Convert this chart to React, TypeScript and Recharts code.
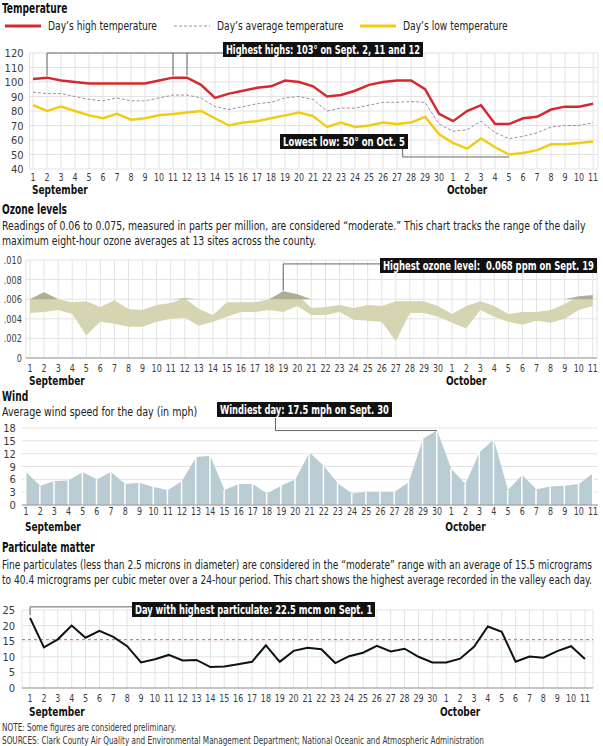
import React, { useLayoutEffect, useRef, useState } from 'react';
import { LineChart, Line, ComposedChart, Area, Bar, XAxis, YAxis, CartesianGrid, ReferenceLine } from 'recharts';

const DAY_LABELS = [
  '1', '2', '3', '4', '5', '6', '7', '8', '9', '10', '11', '12', '13', '14', '15',
  '16', '17', '18', '19', '20', '21', '22', '23', '24', '25', '26', '27', '28', '29', '30',
  '1', '2', '3', '4', '5', '6', '7', '8', '9', '10', '11',
];
const OCT_START = 30;

// temperature, degrees F
const HIGH = [102, 103, 101, 100, 99, 99, 99, 99, 99, 101, 103, 103, 98, 89, 92, 94, 96, 97, 101, 100, 97, 90, 91, 94, 98, 100, 101, 101, 95, 78, 73, 80, 84, 71, 71, 75, 76, 81, 83, 83, 85];
const AVG = [93, 92, 92, 90, 88, 87, 89, 87, 87, 89, 91, 91, 89, 83, 81, 83, 85, 86, 89, 90, 88, 80, 82, 82, 84, 86, 86, 86.5, 86, 71, 66, 67, 73, 65, 61, 62.5, 65, 69, 70, 70, 72];
const LOW = [84, 80, 83, 80, 77, 75, 78, 74, 75, 77, 78, 79, 80, 75, 70, 72, 73, 75, 77, 79, 76.5, 69, 72, 69, 70, 72, 71, 72, 76, 64, 58, 54, 61, 55, 50, 51, 53, 57, 57, 58, 59];
const TEMP_TICKS = [40, 50, 60, 70, 80, 90, 100, 110, 120];

// ozone range (in the axis units)
const OZ_HI = [0.006, 0.0067, 0.006, 0.0057, 0.0058, 0.0052, 0.0059, 0.005, 0.0049, 0.0054, 0.0056, 0.0061, 0.005, 0.0044, 0.0057, 0.0057, 0.0057, 0.006, 0.0068, 0.0065, 0.0051, 0.0052, 0.0054, 0.0051, 0.0054, 0.0053, 0.0058, 0.0058, 0.0058, 0.0053, 0.0045, 0.0053, 0.0058, 0.0053, 0.0045, 0.0047, 0.0047, 0.0049, 0.0055, 0.0063, 0.0064];
const OZ_LO = [0.0046, 0.0047, 0.0049, 0.0045, 0.0023, 0.0037, 0.0035, 0.0032, 0.0032, 0.0037, 0.004, 0.0041, 0.0033, 0.0037, 0.0042, 0.0047, 0.0047, 0.0049, 0.0047, 0.0053, 0.0044, 0.0044, 0.0047, 0.0039, 0.0038, 0.0037, 0.0017, 0.0046, 0.0046, 0.0042, 0.0036, 0.003, 0.0049, 0.0042, 0.0037, 0.0034, 0.0038, 0.0036, 0.004, 0.0049, 0.0053];
const OZ_TICKS = [0, 0.002, 0.004, 0.006, 0.008, 0.01];
const OZ_MODERATE = 0.006;

// wind, mph
const WIND = [7.7, 4.5, 5.6, 5.7, 7.7, 6.0, 7.7, 4.9, 5.2, 4.2, 3.5, 5.6, 11.2, 11.5, 3.5, 4.9, 4.9, 2.7, 4.5, 6.0, 12.3, 9.2, 5.1, 2.7, 3.1, 3.1, 3.1, 5.3, 15.5, 17.5, 8.5, 4.9, 12.4, 15.3, 3.5, 7.0, 3.7, 4.3, 4.5, 4.9, 7.4];
const WIND_TICKS = [0, 3, 6, 9, 12, 15, 18];

// particulate matter, mcm
const PM = [22.5, 13.0, 15.6, 20.0, 16.1, 18.3, 16.4, 13.4, 8.2, 9.2, 10.6, 8.8, 9.0, 6.7, 6.9, 7.6, 8.4, 13.7, 8.4, 11.9, 12.9, 12.4, 8.0, 10.2, 11.3, 13.5, 11.7, 12.6, 10.0, 8.2, 8.2, 9.4, 13.2, 19.7, 18.0, 8.4, 10.1, 9.7, 11.8, 13.4, 9.3];
const PM_TICKS = [0, 5, 10, 15, 20, 25];
const PM_MODERATE = 15.5;

const FONT = '"Liberation Sans Narrow", "DejaVu Sans Condensed", Roboto, sans-serif';
const GRID = '#e3e3e3';
const TICK_TEXT = '#3a3a3a';
const BRACKET = '#666';
const SQUEEZE = 0.8;

const rows = DAY_LABELS.map((day, i) => ({
  i,
  day,
  high: HIGH[i],
  avg: AVG[i],
  low: LOW[i],
  oz: [OZ_LO[i], OZ_HI[i]],
  ozOver: [Math.max(OZ_LO[i], OZ_MODERATE), Math.max(OZ_HI[i], OZ_MODERATE)],
  wind: WIND[i],
  pm: PM[i],
}));
const dayTicks = DAY_LABELS.map((_, i) => i);

// the original uses a condensed face; squeeze ours to the same width
const Fit: React.FC<{ left: number; top: number; width: number; style?: React.CSSProperties; children: React.ReactNode }> = ({ left, top, width, style, children }) => {
  const ref = useRef<HTMLDivElement>(null);
  const [k, setK] = useState(1);
  useLayoutEffect(() => {
    if (ref.current) setK(width / ref.current.offsetWidth);
  }, [width]);
  return (
    <div ref={ref} style={{ position: 'absolute', left, top, whiteSpace: 'pre', transformOrigin: '0 0', transform: `scaleX(${k})`, ...style }}>
      {children}
    </div>
  );
};

const DayTick = (props: any) => {
  const { x, y, payload, labelDy, monthDy } = props;
  const i = payload.value;
  return (
    <g fontFamily={FONT}>
      <text transform={`translate(${x},${y}) scale(${SQUEEZE},1)`} dy={labelDy} textAnchor="middle" fontSize={11} fill={TICK_TEXT}>{DAY_LABELS[i]}</text>
      {i === 0 && (
        <text transform={`translate(${x - 1},${y}) scale(0.8,1)`} dy={monthDy} textAnchor="start" fontSize={12.5} fontWeight="bold" fill="#111">September</text>
      )}
      {i === OCT_START + 1 && (
        <text transform={`translate(${x},${y}) scale(0.8,1)`} dy={monthDy} textAnchor="middle" fontSize={12.5} fontWeight="bold" fill="#111">October</text>
      )}
    </g>
  );
};

const ValueTick = (props: any) => {
  const { x, y, payload, squeeze = 1, format } = props;
  const v = payload.value;
  return (
    <text transform={`translate(${x},${y}) scale(${squeeze},1)`} dy={4} textAnchor="end" fontSize={11} fill={TICK_TEXT} fontFamily={FONT}>
      {format ? format(v) : v}
    </text>
  );
};

const ozLabel = (v: number) => (v === 0 ? '0' : v.toFixed(3).replace(/^0/, ''));

const titleStyle: React.CSSProperties = { fontSize: 14, fontWeight: 'bold', color: '#111', lineHeight: '16px' };
const blurbStyle: React.CSSProperties = { fontSize: 12, color: '#222', lineHeight: '15px' };
const calloutStyle: React.CSSProperties = { background: '#111', color: '#fff', fontSize: 12.5, fontWeight: 'bold', lineHeight: '15px', padding: '0 4px', zIndex: 2 };
const legendStyle: React.CSSProperties = { fontSize: 12.5, color: '#222', lineHeight: '16px' };

const Swatch: React.FC<{ left: number; color: string; width: number; dash?: string }> = ({ left, color, width, dash }) => (
  <svg width={36} height={8} style={{ position: 'absolute', left, top: 22 }}>
    <line x1={0} y1={4} x2={36} y2={4} stroke={color} strokeWidth={width} strokeDasharray={dash} />
  </svg>
);

export default function App() {
  return (
    <div style={{ position: 'absolute', left: 0, top: 0, width: 603, height: 746, background: '#fff', fontFamily: FONT, overflow: 'hidden' }}>
      {/* Temperature */}
      <Fit left={2} top={0} width={65} style={titleStyle}>Temperature</Fit>
      <Swatch left={5} color="#d42a2f" width={3} />
      <Fit left={48} top={18} width={109} style={legendStyle}>Day’s high temperature</Fit>
      <Swatch left={174} color="#a08ca6" width={1} dash="3 2" />
      <Fit left={217} top={18} width={126} style={legendStyle}>Day’s average temperature</Fit>
      <Swatch left={360} color="#f2cc12" width={3} />
      <Fit left={403} top={18} width={105} style={legendStyle}>Day’s low temperature</Fit>
      <div style={{ position: 'absolute', left: 0, top: 0 }}>
        <LineChart width={603} height={199} data={rows} margin={{ top: 53, right: 5, bottom: 0, left: 0 }}>
          <CartesianGrid stroke={GRID} />
          <XAxis type="number" dataKey="i" domain={[-0.25, 40.35]} ticks={dayTicks} interval={0} height={30} tickSize={0} axisLine={false} tick={<DayTick labelDy={10} monthDy={23} />} />
          <YAxis domain={[40, 120]} ticks={TEMP_TICKS} interval={0} width={29.5} tickSize={0} tickLine={false} axisLine={false} tickMargin={6} tick={<ValueTick />} />
          <ReferenceLine segment={[{ x: 1, y: 120 }, { x: 14, y: 120 }]} stroke={BRACKET} />
          <ReferenceLine segment={[{ x: 1, y: 120 }, { x: 1, y: 104.5 }]} stroke={BRACKET} />
          <ReferenceLine segment={[{ x: 10, y: 120 }, { x: 10, y: 104.5 }]} stroke={BRACKET} />
          <ReferenceLine segment={[{ x: 11, y: 120 }, { x: 11, y: 104.5 }]} stroke={BRACKET} />
          <ReferenceLine segment={[{ x: 26.4, y: 54 }, { x: 26.4, y: 48.3 }]} stroke={BRACKET} />
          <ReferenceLine segment={[{ x: 26.4, y: 48.3 }, { x: 34, y: 48.3 }]} stroke={BRACKET} />
          <Line dataKey="avg" stroke="#a08ca6" strokeWidth={1} strokeDasharray="3 2" dot={false} isAnimationActive={false} />
          <Line dataKey="low" stroke="#f2cc12" strokeWidth={2.5} dot={false} isAnimationActive={false} />
          <Line dataKey="high" stroke="#d42a2f" strokeWidth={2.5} dot={false} isAnimationActive={false} />
        </LineChart>
      </div>
      <Fit left={223} top={42} width={200} style={calloutStyle}>Highest highs: 103° on Sept. 2, 11 and 12</Fit>
      <Fit left={280} top={134} width={128} style={calloutStyle}>Lowest low: 50° on Oct. 5</Fit>

      {/* Ozone */}
      <Fit left={2} top={201} width={65} style={titleStyle}>Ozone levels</Fit>
      <Fit left={2} top={219} width={583} style={blurbStyle}>
        <div>Readings of 0.06 to 0.075, measured in parts per million, are considered “moderate.” This chart tracks the range of the daily</div>
        <div>maximum eight-hour ozone averages at 13 sites across the county.</div>
      </Fit>
      <div style={{ position: 'absolute', left: 0, top: 250 }}>
        <ComposedChart width={603} height={138} data={rows} margin={{ top: 10, right: 6, bottom: 0, left: 0 }}>
          <CartesianGrid stroke={GRID} />
          <XAxis type="number" dataKey="i" domain={[-0.3, 40.3]} ticks={dayTicks} interval={0} height={30} tickSize={0} axisLine={{ stroke: '#999' }} tick={<DayTick labelDy={12} monthDy={25.5} />} />
          <YAxis domain={[0, 0.01]} ticks={OZ_TICKS} interval={0} width={25.8} tickSize={0} tickLine={false} axisLine={false} tickMargin={4}
            tick={<ValueTick squeeze={0.82} format={ozLabel} />} />
          <Area dataKey="oz" type="linear" stroke="none" fill="#d6d5b1" fillOpacity={1} isAnimationActive={false} />
          <Area dataKey="ozOver" type="linear" stroke="none" fill="#afae95" fillOpacity={1} isAnimationActive={false} />
          <ReferenceLine segment={[{ x: 18, y: 0.0096 }, { x: 18, y: 0.0069 }]} stroke={BRACKET} />
          <ReferenceLine segment={[{ x: 18, y: 0.0096 }, { x: 25, y: 0.0096 }]} stroke={BRACKET} />
        </ComposedChart>
      </div>
      <Fit left={380} top={258} width={217} style={calloutStyle}>Highest ozone level:  0.068 ppm on Sept. 19</Fit>

      {/* Wind */}
      <Fit left={2} top={388} width={26} style={titleStyle}>Wind</Fit>
      <Fit left={2} top={405} width={195} style={blurbStyle}>Average wind speed for the day (in mph)</Fit>
      <div style={{ position: 'absolute', left: 0, top: 418 }}>
        <ComposedChart width={603} height={117} data={rows} margin={{ top: 10, right: 5, bottom: 0, left: 0 }}>
          <CartesianGrid stroke={GRID} vertical={false} />
          <XAxis type="number" dataKey="i" domain={[-0.3, 40.35]} ticks={dayTicks} interval={0} height={30} tickSize={0} axisLine={{ stroke: '#999' }} tick={<DayTick labelDy={8} monthDy={24} />} />
          <YAxis domain={[0, 18]} ticks={WIND_TICKS} interval={0} width={21.75} tickSize={0} tickLine={false} axisLine={false} tickMargin={6} tick={<ValueTick />} />
          <Area dataKey="wind" type="linear" stroke="none" fill="#b9ccd3" fillOpacity={1} isAnimationActive={false} />
          <Bar dataKey="wind" barSize={1.5} fill="#fff" isAnimationActive={false} />
          <ReferenceLine segment={[{ x: 17.6, y: 20.6 }, { x: 17.6, y: 17.4 }]} stroke={BRACKET} ifOverflow="visible" />
          <ReferenceLine segment={[{ x: 17.6, y: 17.4 }, { x: 29, y: 17.4 }]} stroke={BRACKET} ifOverflow="visible" />
        </ComposedChart>
      </div>
      <Fit left={217} top={402} width={175} style={calloutStyle}>Windiest day: 17.5 mph on Sept. 30</Fit>

      {/* Particulate matter */}
      <Fit left={2} top={539} width={93} style={titleStyle}>Particulate matter</Fit>
      <Fit left={2} top={558} width={590} style={blurbStyle}>
        <div>Fine particulates (less than 2.5 microns in diameter) are considered in the “moderate” range with an average of 15.5 micrograms</div>
        <div>to 40.4 micrograms per cubic meter over a 24-hour period. This chart shows the highest average recorded in the valley each day.</div>
      </Fit>
      <div style={{ position: 'absolute', left: 0, top: 600 }}>
        <LineChart width={603} height={118} data={rows} margin={{ top: 10, right: 10, bottom: 0, left: 0 }}>
          <CartesianGrid stroke={GRID} />
          <XAxis type="number" dataKey="i" domain={[-0.58, 40.58]} ticks={dayTicks} interval={0} height={30} tickSize={0} axisLine={{ stroke: '#999' }} tick={<DayTick labelDy={12} monthDy={26} />} />
          <YAxis domain={[0, 25]} ticks={PM_TICKS} interval={0} width={22} tickSize={0} tickLine={false} axisLine={false} tickMargin={7} tick={<ValueTick />} />
          <ReferenceLine y={PM_MODERATE} stroke="#e06060" strokeDasharray="3 3" />
          <ReferenceLine segment={[{ x: 0, y: 26 }, { x: 0, y: 23.4 }]} stroke={BRACKET} ifOverflow="visible" />
          <ReferenceLine segment={[{ x: 0, y: 26 }, { x: 7.5, y: 26 }]} stroke={BRACKET} ifOverflow="visible" />
          <Line dataKey="pm" stroke="#111" strokeWidth={2} dot={false} isAnimationActive={false} />
        </LineChart>
      </div>
      <Fit left={132} top={602} width={243} style={calloutStyle}>Day with highest particulate: 22.5 mcm on Sept. 1</Fit>

      <Fit left={2} top={721} width={482} style={{ fontSize: 10, color: '#333', lineHeight: '13px' }}>
        <div>NOTE: Some figures are considered preliminary.</div>
        <div>SOURCES: Clark County Air Quality and Environmental Management Department; National Oceanic and Atmospheric Administration</div>
      </Fit>
    </div>
  );
}
